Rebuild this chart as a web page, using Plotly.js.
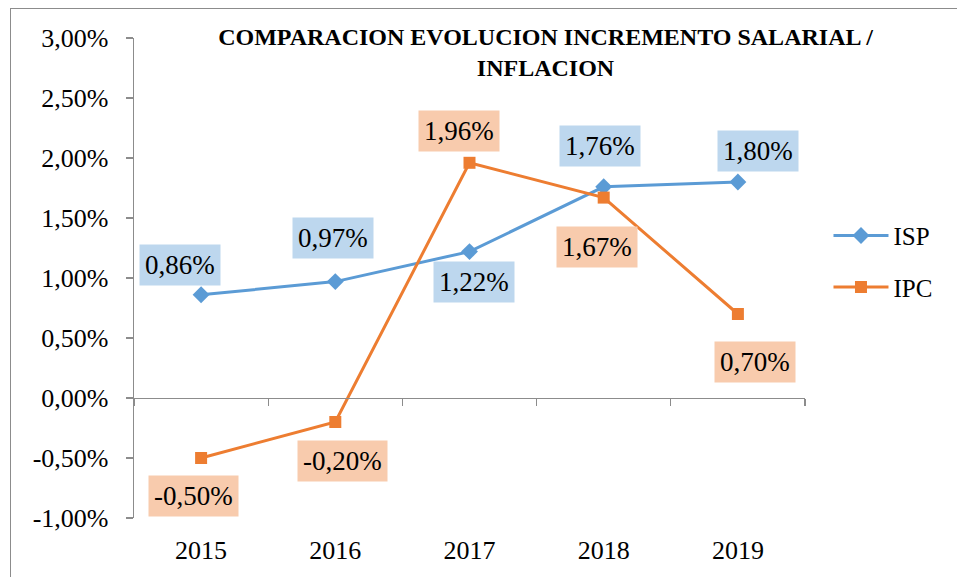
<!DOCTYPE html>
<html>
<head>
<meta charset="utf-8">
<script src="https://cdn.plot.ly/plotly-3.0.1.min.js"></script>
<style>
html,body{margin:0;padding:0;background:#fff;}
#frame{position:absolute;left:10px;top:8px;width:1000px;height:600px;border-left:1.5px solid #8c8c8c;border-top:1.5px solid #8c8c8c;}
#chart{position:absolute;left:0;top:0;width:957px;height:577px;}
#err{position:absolute;left:20px;top:540px;font-size:12px;color:red;}
</style>
</head>
<body>
<div id="frame"></div>
<div id="chart"></div>
<div id="err"></div>
<script>
// Data
const years = ['2015', '2016', '2017', '2018', '2019'];
const ispValues = [0.0086, 0.0097, 0.0122, 0.0176, 0.0180];
const ipcValues = [-0.0050, -0.0020, 0.0196, 0.0167, 0.0070];
const ispLabels = ['0,86%', '0,97%', '1,22%', '1,76%', '1,80%'];
const ipcLabels = ['-0,50%', '-0,20%', '1,96%', '1,67%', '0,70%'];
const yTickVals = [-0.01, -0.005, 0, 0.005, 0.01, 0.015, 0.02, 0.025, 0.03];
const yTickText = ['-1,00%', '-0,50%', '0,00%', '0,50%', '1,00%', '1,50%', '2,00%', '2,50%', '3,00%'];

// Label placement styling (pixel offsets)
const ispShiftX = [-21, -2, 4, -4, 20];
const ispShiftY = [30, 44, -30, 41, 31];
const ipcShiftX = [-8, 7, -11, -7, 17];
const ipcShiftY = [-38, -39, 32, -49, -48];

const FONT = 'Liberation Serif, serif';
const blue = '#5B9BD5', orange = '#ED7D31';

const traces = [
  {x: years, y: ispValues, name: 'ISP', type: 'scatter', mode: 'lines+markers', legendgroup: 'a',
   line: {color: blue, width: 3}, marker: {symbol: 'diamond', size: 13, color: blue},
   xaxis: 'x', yaxis: 'y', hoverinfo: 'skip'},
  {x: years, y: ipcValues, name: 'IPC', type: 'scatter', mode: 'lines+markers', legendgroup: 'b',
   line: {color: orange, width: 3}, marker: {symbol: 'square', size: 12, color: orange},
   xaxis: 'x2', yaxis: 'y', hoverinfo: 'skip'}
];

const annotations = [];
years.forEach((yr, i) => {
  annotations.push({x: i, y: ispValues[i], xref: 'x', yref: 'y', text: ispLabels[i],
    showarrow: false, xshift: ispShiftX[i], yshift: ispShiftY[i], bgcolor: '#BDD7EE',
    borderpad: 5, font: {family: FONT, size: 27, color: '#000'}});
  annotations.push({x: i, y: ipcValues[i], xref: 'x', yref: 'y', text: ipcLabels[i],
    showarrow: false, xshift: ipcShiftX[i], yshift: ipcShiftY[i], bgcolor: '#F8CBAD',
    borderpad: 5, font: {family: FONT, size: 27, color: '#000'}});
});

const layout = {
  width: 957, height: 577,
  paper_bgcolor: 'rgba(0,0,0,0)', plot_bgcolor: 'rgba(0,0,0,0)',
  margin: {l: 134, r: 152, t: 38, b: 59},
  title: {text: '<b>COMPARACION EVOLUCION INCREMENTO SALARIAL /<br>INFLACION</b>',
    font: {family: FONT, size: 24, color: '#000'}, x: 0.57, xanchor: 'center',
    y: 0.922, yanchor: 'middle'},
  font: {family: FONT, size: 22, color: '#000'},
  showlegend: true,
  legend: {x: 1.035, y: 0.535, xanchor: 'left', yanchor: 'middle', font: {family: FONT, size: 25, color: '#000'},
    tracegroupgap: 16, itemwidth: 55, bgcolor: 'rgba(0,0,0,0)'},
  xaxis: {type: 'category', categoryarray: years, range: [-0.5, 4.5], showline: false,
    ticks: '', showgrid: false, zeroline: false, tickfont: {family: FONT, size: 26}, ticklabelstandoff: 14},
  xaxis2: {type: 'category', categoryarray: years, range: [-0.5, 4.5], overlaying: 'x',
    anchor: 'free', position: 0.25, showline: true, linecolor: '#8c8c8c', linewidth: 1.3,
    ticks: 'outside', tickson: 'boundaries', ticklen: 7, tickcolor: '#8c8c8c', tickwidth: 1.3,
    showticklabels: false, showgrid: false, zeroline: false},
  yaxis: {range: [-0.01, 0.03], tickmode: 'array', tickvals: yTickVals, ticktext: yTickText, showgrid: false,
    zeroline: false, showline: true, linecolor: '#8c8c8c', linewidth: 1.3, ticks: 'outside',
    ticklen: 7, tickcolor: '#8c8c8c', tickwidth: 1.3, tickfont: {family: FONT, size: 26}, ticklabelstandoff: 12},
  annotations: annotations
};

try {
  Plotly.newPlot('chart', traces, layout, {staticPlot: true, displayModeBar: false})
    .catch(e => { document.getElementById('err').textContent = 'ERR ' + e; });
} catch (e) { document.getElementById('err').textContent = 'ERR ' + e; }
</script>
</body>
</html>
